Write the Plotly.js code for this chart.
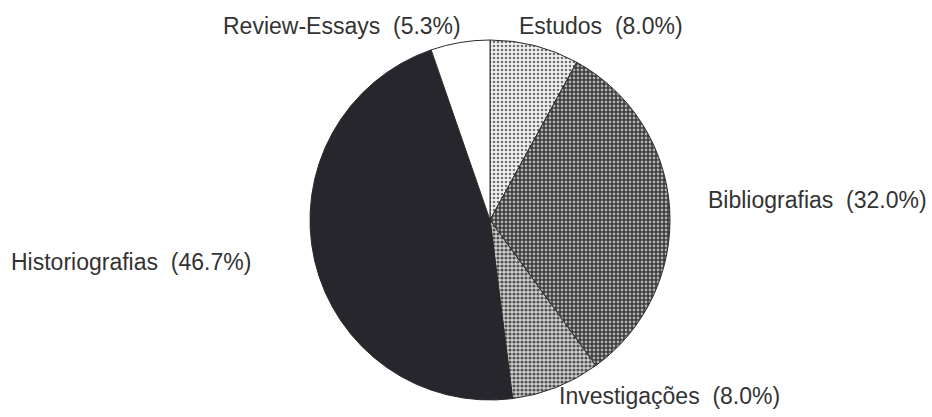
<!DOCTYPE html>
<html>
<head>
<meta charset="utf-8">
<script src="https://cdn.plot.ly/plotly-3.0.1.min.js"></script>
<style>html,body{margin:0;padding:0;background:#fff;}#chart{width:932px;height:417px;}</style>
</head>
<body>
<div id="chart"></div>
<script>
const categories = ["Estudos", "Bibliografias", "Investigações", "Historiografias", "Review-Essays"];
const percentages = [8.0, 32.0, 8.0, 46.7, 5.3];

const sliceColors = ["#d4d4d4", "#5a5a5a", "#a8a8a8", "#26262c", "#ffffff"];
const labelPos = [
  {x: 517, y: 26},
  {x: 706, y: 200},
  {x: 557, y: 396},
  {x: 9, y: 262},
  {x: 221, y: 26}
];

const W = 932, H = 417;
const cx = 490, cy = 220, r = 180;

const trace = {
  type: "pie",
  labels: categories,
  values: percentages,
  sort: false,
  direction: "clockwise",
  rotation: 0,
  textinfo: "none",
  hoverinfo: "label+percent",
  marker: {
    colors: sliceColors,
    line: {color: "#2a2a2a", width: 1},
    pattern: {
      shape: [".", ".", ".", "", ""],
      bgcolor: ["#f2f2f2", "#3a3a3a", "#d0d0d0", "#26262c", "#ffffff"],
      fgcolor: ["#707070", "#b0b0b0", "#505050", "#26262c", "#ffffff"],
      size: [4, 4, 4, 4, 4],
      solidity: [0.35, 0.4, 0.5, 0.3, 0.3],
      fillmode: "replace"
    }
  },
  domain: {
    x: [(cx - r) / W, (cx + r) / W],
    y: [(H - (cy + r)) / H, (H - (cy - r)) / H]
  },
  showlegend: false
};

const annotations = categories.map((c, i) => ({
  text: c + "\u00a0\u00a0(" + percentages[i].toFixed(1) + "%)",
  x: labelPos[i].x / W,
  y: 1 - labelPos[i].y / H,
  xref: "paper", yref: "paper",
  xanchor: "left", yanchor: "middle",
  showarrow: false,
  font: {family: "Liberation Sans, Arial, sans-serif", size: 23, color: "#333333"}
}));

const layout = {
  width: W, height: H,
  margin: {l: 0, r: 0, t: 0, b: 0},
  paper_bgcolor: "#ffffff",
  plot_bgcolor: "#ffffff",
  showlegend: false,
  annotations: annotations
};

Plotly.newPlot("chart", [trace], layout, {displayModeBar: false, staticPlot: true});
</script>
</body>
</html>
